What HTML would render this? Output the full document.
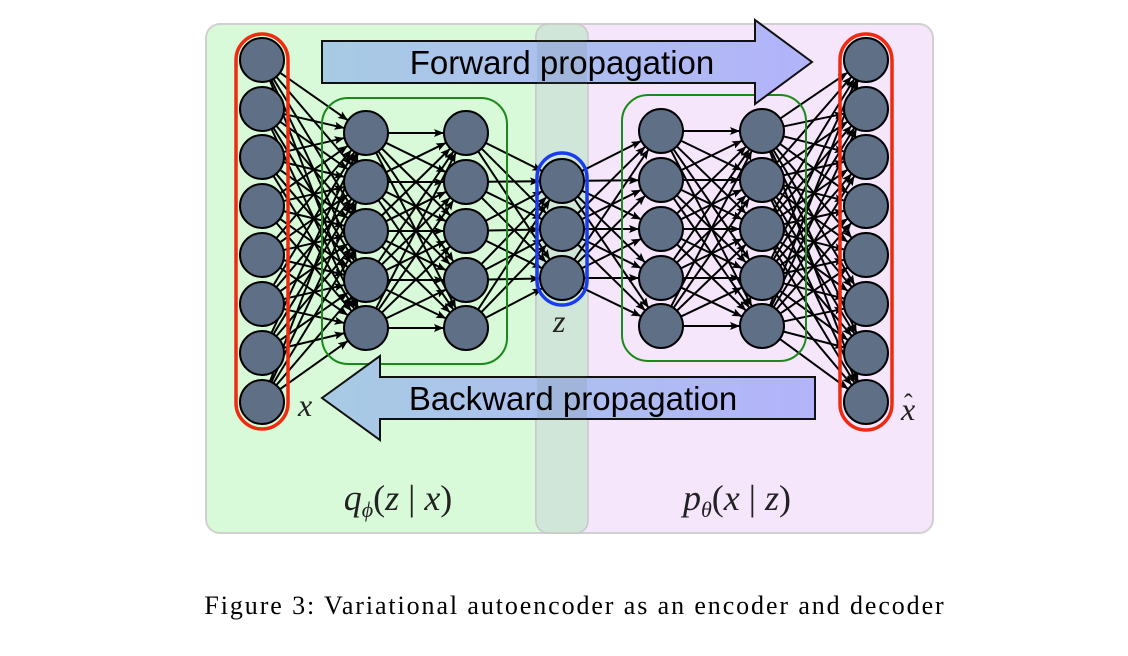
<!DOCTYPE html>
<html><head><meta charset="utf-8"><style>
body{margin:0;background:#fff;width:1128px;height:656px;overflow:hidden}
svg{position:absolute;left:0;top:0}
</style></head><body>
<svg id="s" width="1128" height="656" xmlns="http://www.w3.org/2000/svg">
<defs>
<marker id="ah" markerWidth="10" markerHeight="8" refX="10" refY="4" orient="auto" markerUnits="userSpaceOnUse"><path d="M0,0 L10,4 L0,8 L2,4 z" fill="#000"/></marker>
<linearGradient id="ga" x1="0" x2="1" y1="0" y2="0"><stop offset="0" stop-color="#a7cbe3"/><stop offset="1" stop-color="#b3b3fb"/></linearGradient>
</defs>
<rect x="206" y="24" width="382" height="509" rx="14" fill="#d8fad8" stroke="#d0d0d0" stroke-width="2"/>
<rect x="536" y="24" width="397" height="509" rx="14" fill="#f5e6fb" stroke="#d0d0d0" stroke-width="2"/>
<rect x="536" y="24" width="52" height="509" rx="12" fill="#d0e6d8" stroke="#c8c8c8" stroke-width="1.5"/>
<g id="edges" stroke="#000" stroke-width="2" fill="none"></g>
<rect x="322" y="98" width="185" height="266" rx="26" fill="none" stroke="#1a8a1a" stroke-width="2"/>
<rect x="622" y="95" width="184" height="266" rx="26" fill="none" stroke="#1a8a1a" stroke-width="2"/>
<rect x="236" y="34" width="52" height="395" rx="26" fill="none" stroke="#f02a10" stroke-width="3.5"/>
<rect x="840" y="34" width="52" height="396" rx="26" fill="none" stroke="#f02a10" stroke-width="3.5"/>
<rect x="537" y="153" width="50" height="152" rx="25" fill="none" stroke="#1a3cf0" stroke-width="3.5"/>
<path d="M322,41 H755 V20 L812,62 L755,104 V83 H322 Z" fill="url(#ga)" stroke="#111" stroke-width="2"/>
<path d="M815,377 H380 V356 L322,398 L380,440 V419 H815 Z" fill="url(#ga)" stroke="#111" stroke-width="2"/>
<rect x="537" y="40" width="50" height="44" fill="#5a7a60" fill-opacity="0.14"/>
<rect x="537" y="376" width="50" height="44" fill="#5a7a60" fill-opacity="0.14"/>
<g id="nodes" fill="#5e6f86" stroke="#000" stroke-width="2"></g>
<text x="562" y="74" font-family="Liberation Sans, sans-serif" font-size="33" text-anchor="middle">Forward propagation</text>
<text x="573" y="410" font-family="Liberation Sans, sans-serif" font-size="33" text-anchor="middle">Backward propagation</text>
<g font-family="Liberation Serif, serif" font-style="italic" font-size="32" fill="#222">
<text x="298" y="416">x</text>
<text x="553" y="332">z</text>
<text x="901" y="420">x</text>
<text x="904" y="412" font-style="normal" font-size="26">ˆ</text>
<text x="398" y="510" text-anchor="middle" font-size="36">q<tspan font-size="22" dy="7">ϕ</tspan><tspan dy="-7" font-style="normal">(</tspan>z <tspan font-style="normal">|</tspan> x<tspan font-style="normal">)</tspan></text>
<text x="737" y="510" text-anchor="middle" font-size="36">p<tspan font-size="22" dy="7">θ</tspan><tspan dy="-7" font-style="normal">(</tspan>x <tspan font-style="normal">|</tspan> z<tspan font-style="normal">)</tspan></text>
</g>
<text x="575" y="614" font-family="Liberation Serif, serif" font-size="26" letter-spacing="1.9" text-anchor="middle">Figure 3: Variational autoencoder as an encoder and decoder</text>
</svg>
<script>
var NS="http://www.w3.org/2000/svg",R=22;
var io=[60,109,157,206,255,304,353,402],h1=[133,182,231,280,328],h2=[131,180,229,278,326],z=[181,229,278];
var L=[[262,io],[366,h1],[466,h1],[562,z],[661,h2],[762,h2],[866,io]];
var E=document.getElementById("edges"),N=document.getElementById("nodes");
for(var i=0;i<L.length-1;i++){var a=L[i],b=L[i+1];a[1].forEach(function(y1){b[1].forEach(function(y2){
var dx=b[0]-a[0],dy=y2-y1,d=Math.sqrt(dx*dx+dy*dy);
var l=document.createElementNS(NS,"line");l.setAttribute("x1",a[0]+dx/d*R);l.setAttribute("y1",y1+dy/d*R);
l.setAttribute("x2",b[0]-dx/d*R);l.setAttribute("y2",y2-dy/d*R);l.setAttribute("marker-end","url(#ah)");E.appendChild(l);});});}
L.forEach(function(c){c[1].forEach(function(y){var e=document.createElementNS(NS,"circle");e.setAttribute("cx",c[0]);e.setAttribute("cy",y);e.setAttribute("r",R);N.appendChild(e);});});
</script>
</body></html>
